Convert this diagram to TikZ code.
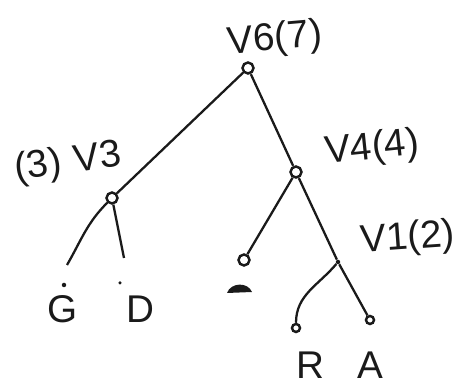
\documentclass[tikz,border=0pt]{standalone}
\usepackage{xcolor}
\usepackage{fontspec}
\setmainfont{Liberation Sans}
\usepackage{tikz}
\usetikzlibrary{positioning, arrows.meta, calc}
\definecolor{inkgray}{HTML}{1A1A1A}

\begin{document}
\begin{tikzpicture}[x=0.02cm, y=0.02cm,
    stroke/.style={draw=inkgray, line width=1.3pt},
    knot/.style={circle, draw=inkgray, line width=1.4pt, inner sep=0pt, minimum size=0.22cm},
    tick/.style={circle, fill=inkgray, inner sep=0pt, minimum size=0.09cm},
    lab/.style={text=inkgray, font=\fontsize{22}{24}\selectfont, inner sep=0pt}]
    \useasboundingbox (0,0) rectangle (454,385);

    % inner nodes
    \node[knot] (v6) at (248,317) {};
    \node[knot] (v3) at (112,187) {};
    \node[knot] (v4) at (296,213) {};
    \node[tick] (v1) at (338,123) {};

    % leaves
    \node[knot] (blank) at (244,125) {};
    \node[knot, minimum size=0.16cm] (r) at (296,57) {};
    \node[knot, minimum size=0.16cm] (a) at (370,65) {};
    \coordinate (gend) at (67,120);
    \coordinate (dend) at (124,127);
    \node[tick] (gdot) at (64,100) {};
    \node[tick, minimum size=0.07cm] (ddot) at (120,102) {};

    % labels
    \node[lab, rotate=5] (l6) at (275,345) {V6(7)};
    \node[lab, rotate=8] (l3) at (68,222) {(3)\,\,V3};
    \node[lab, rotate=6] (l4) at (372,236) {V4(4)};
    \node[lab, rotate=4] (l1) at (408,146) {V1(2)};
    \node[lab] (lg) at (63,76) {G};
    \node[lab] (ld) at (140,76) {D};
    \node[lab] (lr) at (310,20) {R};
    \node[lab] (la) at (370,20) {A};

    % edges
    \draw[stroke] (v6) -- (v3);
    \draw[stroke] (v6) -- (v4);
    \draw[stroke] (v3) to[out=225, in=60] (gend);
    \draw[stroke] (v3) -- (dend);
    \draw[stroke] (v4) -- (blank);
    \draw[stroke] (v4) -- (v1);
    \draw[stroke] (v1) -- (a);
    \draw[stroke] (v1) to[out=230, in=90] (r);

    % mark under the empty leaf
    \fill[inkgray] (227,92) .. controls (231,103) and (248,103) .. (252,93) -- cycle;
  \end{tikzpicture}
\end{document}
